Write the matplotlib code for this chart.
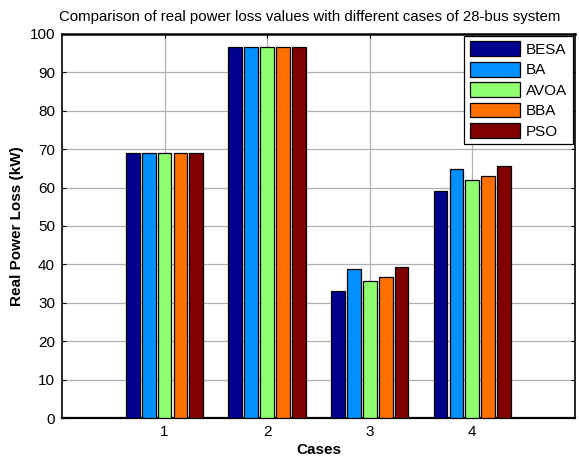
import matplotlib
matplotlib.use("Agg")
import matplotlib.pyplot as plt
import numpy as np

plt.rcParams['font.family'] = ['Liberation Sans', 'DejaVu Sans']

cases = [1, 2, 3, 4]
methods = ["BESA", "BA", "AVOA", "BBA", "PSO"]
besa = [68.9, 96.7, 33.0, 59.0]
ba = [68.9, 96.7, 38.9, 64.9]
avoa = [68.9, 96.7, 35.6, 62.0]
bba = [68.9, 96.7, 36.8, 63.0]
pso = [68.9, 96.7, 39.4, 65.7]
colors = ["#00008F", "#0090FF", "#90FF70", "#FF7000", "#800000"]

series = [besa, ba, avoa, bba, pso]

fig = plt.figure(figsize=(5.79, 4.57), dpi=100)
ax = fig.add_axes([0.107, 0.085, 0.886, 0.841])

slot = 0.155
width = 0.135
x = np.array(cases, dtype=float)
for i, (vals, name, c) in enumerate(zip(series, methods, colors)):
    offs = (i - 2) * slot
    ax.bar(x + offs, vals, width=width, color=c, edgecolor="black",
           linewidth=0.9, label=name, zorder=3)

ax.set_xlim(0, 5)
ax.set_ylim(0, 100)
ax.set_xticks(cases)
ax.set_yticks(np.arange(0, 101, 10))
ax.tick_params(axis='both', labelsize=11, direction='in', length=3,
               top=True, right=True, pad=5)
ax.grid(True, linestyle='-', color='#b0b0b0', linewidth=0.9, zorder=0)
ax.set_axisbelow(True)
for s in ax.spines.values():
    s.set_linewidth(1.2)
ax.spines['top'].set_linewidth(1.8)
ax.spines['bottom'].set_linewidth(1.6)

ax.set_title("Comparison of real power loss values with different cases of 28-bus system",
             fontsize=10.8, pad=9, x=0.483)
ax.set_xlabel("Cases", fontsize=11, fontweight='bold', labelpad=3)
ax.set_ylabel("Real Power Loss (kW)", fontsize=11, fontweight='bold', labelpad=4)

leg = ax.legend(loc='upper right', fontsize=11, fancybox=False, framealpha=1,
                edgecolor='black', handlelength=3.3, handleheight=1.1,
                borderaxespad=0.15, labelspacing=0.32, handletextpad=0.4,
                borderpad=0.35)
leg.get_frame().set_linewidth(0.9)

fig.savefig("out.png", dpi=100)
